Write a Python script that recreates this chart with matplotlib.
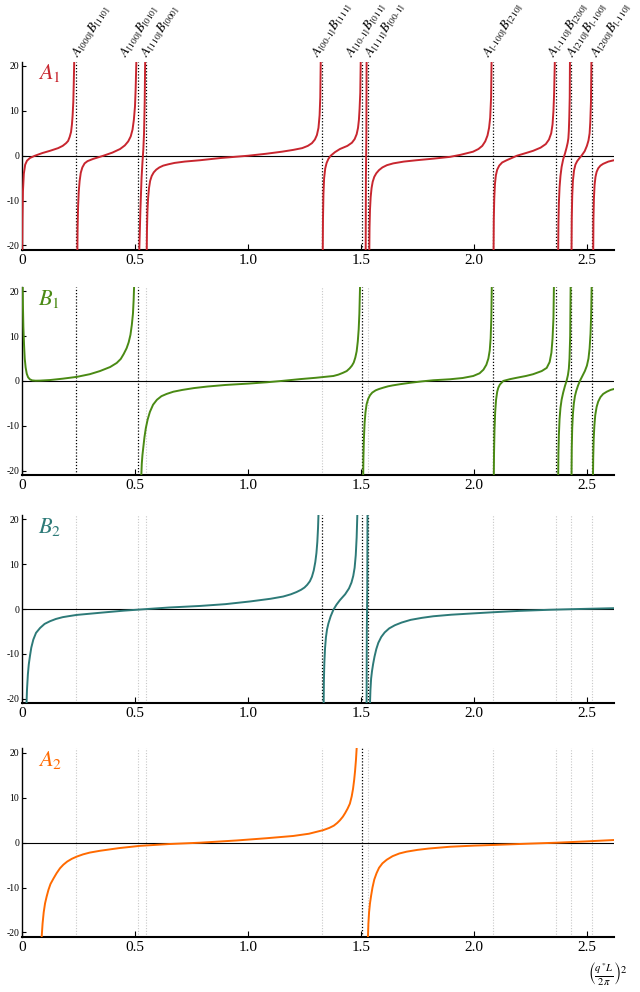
import matplotlib
matplotlib.use("Agg")
import matplotlib.pyplot as plt

plt.rcParams['font.family'] = ['Liberation Serif', 'DejaVu Serif']
plt.rcParams['mathtext.fontset'] = 'stix'
plt.rcParams['axes.unicode_minus'] = False

# positions des poles (q*L/2pi)^2 et leurs etiquettes
poles = [0.241, 0.514, 0.550, 1.327, 1.505, 1.530, 2.083, 2.365, 2.428, 2.523]
pole_labels = [r'$A_{[000]}B_{[110]}$', r'$A_{[100]}B_{[010]}$', r'$A_{[110]}B_{[000]}$',
               r'$A_{[00\text{-}1]}B_{[111]}$', r'$A_{[10\text{-}1]}B_{[011]}$', r'$A_{[111]}B_{[00\text{-}1]}$',
               r'$A_{[\text{-}100]}B_{[210]}$', r'$A_{[\text{-}110]}B_{[200]}$', r'$A_{[210]}B_{[\text{-}100]}$',
               r'$A_{[200]}B_{[\text{-}110]}$']
# ou commence chaque etiquette (decalees pour ne pas se chevaucher)
label_x = [0.245, 0.458, 0.552, 1.305, 1.458, 1.540, 2.063, 2.350, 2.437, 2.543]

xticks = [0, 0.5, 1.0, 1.5, 2.0, 2.5]
xtick_labels = ['0', '0.5', '1.0', '1.5', '2.0', '2.5']
yticks = [-20, -10, 0, 10, 20]
ytick_labels = ['-20', '-10', '0', '10', '20']

# ---- A1 ----
a1_x1 = [0.001, 0.002, 0.004, 0.008, 0.014, 0.022, 0.035, 0.057, 0.09, 0.124, 0.16, 0.18, 0.195, 0.204,
         0.211, 0.217, 0.221, 0.224, 0.227, 0.229, 0.231]
a1_y1 = [-21, -14, -8, -4, -2, -1.1, -0.5, 0, 0.6, 1.1, 1.7, 2.2, 2.8, 3.3,
         4.2, 5.3, 7, 9, 12, 16, 21]
a1_x2 = [0.245, 0.246, 0.248, 0.251, 0.255, 0.26, 0.267, 0.277, 0.29, 0.315, 0.36, 0.40, 0.434, 0.455,
         0.47, 0.481, 0.489, 0.495, 0.5, 0.503, 0.506]
a1_y2 = [-21, -16, -11.5, -8, -5.6, -3.8, -2.6, -1.7, -1.2, -0.7, 0, 0.7, 1.5, 2.3,
         3.2, 4.3, 5.8, 8, 11, 15, 21]
a1_x3 = [0.519, 0.524, 0.529, 0.533, 0.537, 0.540, 0.543, 0.545]
a1_y3 = [-21, -12, -5, -1.5, 1.5, 5, 12, 21]
a1_x4 = [0.552, 0.553, 0.555, 0.558, 0.562, 0.567, 0.574, 0.583, 0.594, 0.608, 0.625, 0.648, 0.675,
         0.72, 0.788, 0.88, 1.0, 1.08, 1.15, 1.2, 1.24, 1.265, 1.283, 1.296, 1.305, 1.312, 1.317,
         1.32, 1.322]
a1_y4 = [-21, -16.5, -12.5, -9.4, -7.2, -5.6, -4.5, -3.7, -3.1, -2.6, -2.2, -1.9, -1.6,
         -1.3, -1.0, -0.5, 0, 0.44, 0.9, 1.3, 1.7, 2.2, 2.8, 3.6, 4.6, 6.2, 9,
         13, 21]
a1_x5 = [1.331, 1.332, 1.334, 1.337, 1.342, 1.348, 1.356, 1.366, 1.385, 1.407, 1.44, 1.46, 1.472, 1.481,
         1.487, 1.491, 1.494, 1.497, 1.499]
a1_y5 = [-21, -14, -8.5, -5, -2.8, -1.6, -0.7, 0, 0.8, 1.5, 2.2, 2.9, 3.7, 4.8,
         6.2, 8, 10.5, 14, 21]
a1_x6 = [1.521, 1.522, 1.523, 1.524, 1.525]
a1_y6 = [-21, -5, 0, 5, 21]
a1_x7 = [1.537, 1.538, 1.54, 1.543, 1.547, 1.552, 1.559, 1.568, 1.58, 1.595, 1.615, 1.643, 1.69, 1.746,
         1.82, 1.894, 1.94, 1.996, 2.02, 2.037, 2.05, 2.06, 2.067, 2.072, 2.076, 2.078]
a1_y7 = [-21, -16, -12, -9.2, -7.2, -5.8, -4.7, -3.9, -3.2, -2.6, -2.1, -1.7, -1.3, -1.0,
         -0.65, -0.25, 0.2, 0.9, 1.5, 2.2, 3.2, 4.5, 6.2, 8.5, 13, 21]
a1_x8 = [2.087, 2.088, 2.09, 2.093, 2.097, 2.103, 2.112, 2.125, 2.145, 2.19, 2.23, 2.262, 2.295, 2.318,
         2.332, 2.342, 2.348, 2.352, 2.355, 2.358]
a1_y8 = [-21, -14, -9.5, -6.3, -4.4, -3.1, -2.2, -1.5, -1.0, 0, 0.6, 1.1, 1.8, 2.6,
         3.6, 5, 7, 10, 14, 21]
a1_x9 = [2.373, 2.374, 2.376, 2.379, 2.383, 2.388, 2.395, 2.403, 2.41, 2.415, 2.418, 2.420, 2.422, 2.424, 2.425]
a1_y9 = [-21, -15, -10.5, -7, -4.5, -2.5, -0.8, 0.5, 1.8, 2.9, 3.9, 5.5, 8.5, 13, 21]
a1_x10 = [2.432, 2.433, 2.435, 2.438, 2.443, 2.449, 2.457, 2.466, 2.476, 2.49, 2.5, 2.507, 2.512, 2.515,
          2.518, 2.52]
a1_y10 = [-21, -14, -9, -5.6, -3.3, -2.0, -1.2, -0.6, 0, 1.0, 2.2, 3.4, 5, 7.5,
          12, 21]
a1_x11 = [2.528, 2.529, 2.531, 2.534, 2.538, 2.543, 2.55, 2.56, 2.572, 2.595, 2.62]
a1_y11 = [-21, -14, -9.6, -6.5, -4.7, -3.6, -2.8, -2.2, -1.8, -1.3, -1.0]

# ---- B1 ----
b1_x1 = [0.003, 0.004, 0.006, 0.009, 0.012, 0.016, 0.021, 0.027, 0.035, 0.045, 0.06, 0.08, 0.124, 0.18,
         0.242, 0.3, 0.345, 0.39, 0.419, 0.437, 0.45, 0.463, 0.472, 0.48, 0.486, 0.491, 0.494, 0.496]
b1_y1 = [21, 17, 12, 8, 5, 3, 1.6, 0.8, 0.35, 0.12, 0.05, 0.07, 0.2, 0.5,
         0.9, 1.5, 2.2, 3.1, 4, 4.9, 6, 7.3, 8.6, 10.3, 12.5, 15, 18, 21]
b1_x2 = [0.528, 0.53, 0.533, 0.537, 0.542, 0.548, 0.556, 0.566, 0.58, 0.597, 0.617, 0.64, 0.67, 0.71,
         0.76, 0.82, 0.9, 1.0, 1.083, 1.15, 1.23, 1.3, 1.378, 1.4, 1.42, 1.437, 1.45, 1.46,
         1.468, 1.475, 1.481, 1.486, 1.49, 1.493, 1.496]
b1_y2 = [-21, -18.5, -16.5, -14.7, -12.5, -10.5, -8.6, -6.9, -5.3, -4.2, -3.4, -2.9, -2.4, -2.0,
         -1.6, -1.25, -0.9, -0.6, -0.3, 0, 0.4, 0.7, 1.1, 1.4, 1.8, 2.2, 2.8, 3.4,
         4.1, 5.2, 6.6, 8.8, 11.5, 15, 21]
b1_x3 = [1.51, 1.511, 1.513, 1.516, 1.52, 1.525, 1.532, 1.54, 1.55, 1.565, 1.58, 1.599, 1.62, 1.64,
         1.673, 1.72, 1.77, 1.82, 1.894, 1.95, 1.997, 2.025, 2.042, 2.055, 2.064, 2.07, 2.074,
         2.077, 2.079]
b1_y3 = [-21, -17, -13, -9.5, -7, -5.2, -4, -3.2, -2.6, -2.1, -1.8, -1.5, -1.2, -1.0,
         -0.73, -0.4, -0.1, 0.15, 0.37, 0.65, 1.1, 1.7, 2.5, 3.6, 5, 6.8, 9.5,
         14, 21]
b1_x4 = [2.088, 2.089, 2.091, 2.094, 2.098, 2.103, 2.108, 2.115, 2.13, 2.16, 2.189, 2.23, 2.262, 2.3,
         2.322, 2.335, 2.343, 2.348, 2.352, 2.354]
b1_y4 = [-21, -16, -11, -7, -4.2, -2.4, -1.5, -0.8, 0, 0.4, 0.7, 1.1, 1.5, 2.2,
         2.9, 4.2, 6.3, 9.5, 14, 21]
b1_x5 = [2.373, 2.374, 2.376, 2.379, 2.383, 2.388, 2.395, 2.403, 2.41, 2.416, 2.42, 2.423, 2.426, 2.428]
b1_y5 = [-21, -16, -12, -8.5, -6, -4.2, -2.6, -1.1, 0, 1.3, 2.7, 5, 10, 21]
b1_x6 = [2.432, 2.433, 2.435, 2.438, 2.442, 2.447, 2.453, 2.461, 2.469, 2.48, 2.491, 2.5, 2.507, 2.512,
         2.516, 2.519, 2.521]
b1_y6 = [-21, -15, -10.5, -7.4, -5.1, -3.4, -2.2, -1.0, 0, 1.1, 2.2, 3.4, 5, 7.3,
         10.5, 15, 21]
b1_x7 = [2.527, 2.528, 2.53, 2.533, 2.537, 2.543, 2.55, 2.56, 2.572, 2.588, 2.605, 2.62]
b1_y7 = [-21, -17, -13, -10, -7.6, -5.8, -4.6, -3.6, -2.9, -2.4, -2.0, -1.8]

# ---- B2 ----
b2_x1 = [0.02, 0.022, 0.026, 0.03, 0.035, 0.041, 0.05, 0.062, 0.08, 0.1, 0.124, 0.15, 0.18, 0.21,
         0.242, 0.35, 0.45, 0.55, 0.65, 0.788, 0.9, 1.009, 1.1, 1.156, 1.19, 1.215, 1.235, 1.25,
         1.262, 1.274, 1.283, 1.291, 1.298, 1.303, 1.307, 1.31, 1.312]
b2_y1 = [-21, -18, -14.5, -12.3, -10.5, -8.6, -6.8, -5.3, -4.2, -3.3, -2.7, -2.2, -1.8, -1.55,
         -1.3, -0.8, -0.35, 0, 0.35, 0.7, 1.1, 1.7, 2.3, 2.8, 3.3, 3.8, 4.3, 4.8,
         5.4, 6.2, 7.2, 8.6, 10.5, 12.5, 15, 18, 21]
b2_x2 = [1.335, 1.336, 1.338, 1.341, 1.345, 1.35, 1.356, 1.366, 1.378, 1.392, 1.407, 1.43, 1.447, 1.458,
         1.466, 1.472, 1.477, 1.481, 1.484]
b2_y2 = [-21, -16, -12, -8.8, -6.3, -4.5, -3.2, -1.6, -0.15, 1.0, 2, 3.3, 4.6, 5.9,
         7.4, 9.2, 12, 16, 21]
b2_x3 = [1.525, 1.526, 1.527, 1.528, 1.529]
b2_y3 = [-21, -5, 0, 5, 21]
b2_x4 = [1.54, 1.542, 1.545, 1.549, 1.554, 1.56, 1.568, 1.577, 1.59, 1.605, 1.625, 1.65, 1.68, 1.72,
         1.77, 1.82, 1.9, 2.0, 2.086, 2.2, 2.336, 2.45, 2.62]
b2_y4 = [-21, -18, -15.5, -13.8, -12.2, -10.6, -8.9, -7.5, -6.2, -5.2, -4.3, -3.6, -3.0, -2.4,
         -1.95, -1.6, -1.25, -0.95, -0.7, -0.4, -0.15, 0, 0.2]

# ---- A2 ----
a2_x1 = [0.087, 0.091, 0.096, 0.102, 0.109, 0.117, 0.126, 0.139, 0.153, 0.168, 0.183, 0.2, 0.22, 0.242,
         0.27, 0.3, 0.345, 0.43, 0.522, 0.65, 0.788, 0.95, 1.083, 1.2, 1.27, 1.333, 1.36, 1.38,
         1.395, 1.407, 1.42, 1.43, 1.441, 1.451, 1.459, 1.465, 1.47, 1.474, 1.478, 1.481]
a2_y1 = [-21, -18, -15.5, -13.5, -12, -10.5, -9.2, -8.0, -6.8, -5.7, -4.9, -4.2, -3.6, -3.1,
         -2.6, -2.2, -1.8, -1.2, -0.7, -0.3, 0, 0.5, 1.0, 1.5, 2.0, 2.8, 3.3, 3.8,
         4.4, 5, 5.8, 6.6, 7.6, 8.7, 10.3, 12, 14, 16, 18.5, 21]
a2_x2 = [1.531, 1.533, 1.536, 1.54, 1.545, 1.551, 1.559, 1.569, 1.58, 1.595, 1.614, 1.64, 1.67, 1.702,
         1.75, 1.8, 1.894, 2.0, 2.086, 2.25, 2.366, 2.5, 2.62]
a2_y2 = [-21, -18, -15.5, -13.5, -11.8, -10, -8.2, -6.8, -5.6, -4.6, -3.8, -3.0, -2.4, -2.0,
         -1.6, -1.3, -0.9, -0.65, -0.5, -0.2, 0, 0.3, 0.6]

panels = [
    (r'$A_1$', '#c8262f', [0, 1, 2, 3, 4, 5, 6, 7, 8, 9],
     [(a1_x1, a1_y1), (a1_x2, a1_y2), (a1_x3, a1_y3), (a1_x4, a1_y4), (a1_x5, a1_y5), (a1_x6, a1_y6),
      (a1_x7, a1_y7), (a1_x8, a1_y8), (a1_x9, a1_y9), (a1_x10, a1_y10), (a1_x11, a1_y11)]),
    (r'$B_1$', '#4a8a14', [0, 1, 4, 6, 7, 8, 9],
     [(b1_x1, b1_y1), (b1_x2, b1_y2), (b1_x3, b1_y3), (b1_x4, b1_y4), (b1_x5, b1_y5), (b1_x6, b1_y6),
      (b1_x7, b1_y7)]),
    (r'$B_2$', '#2d7a78', [3, 4, 5],
     [(b2_x1, b2_y1), (b2_x2, b2_y2), (b2_x3, b2_y3), (b2_x4, b2_y4)]),
    (r'$A_2$', '#ff6a00', [4],
     [(a2_x1, a2_y1), (a2_x2, a2_y2)]),
]

fig = plt.figure(figsize=(6.4, 9.92), dpi=100)
bottoms = [0.748, 0.521, 0.291, 0.0555]

for k, (name, col, actifs, branches) in enumerate(panels):
    ax = fig.add_axes([0.0344, bottoms[k], 0.925, 0.19])
    ax.set_xlim(0, 2.62)
    ax.set_ylim(-21, 21)
    for i, p in enumerate(poles):
        if i in actifs:
            ax.axvline(p, color='black', ls=(0, (1, 1.5)), lw=0.9, zorder=1)
        else:
            ax.axvline(p, color='#c8c8c8', ls=(0, (1, 1.5)), lw=0.8, zorder=1)
    ax.axhline(0, color='black', lw=0.8, zorder=2)
    for bx, by in branches:
        ax.plot(bx, by, color=col, lw=1.4, zorder=3, solid_joinstyle='round')
    ax.text(0.027, 0.995, name, transform=ax.transAxes, color=col, fontsize=16,
            ha='left', va='top')
    for s in ['top', 'right']:
        ax.spines[s].set_visible(False)
    ax.spines['left'].set_linewidth(1.0)
    ax.spines['bottom'].set_linewidth(1.5)
    ax.set_xticks(xticks)
    ax.set_xticklabels(xtick_labels, fontsize=11)
    ax.set_yticks(yticks)
    ax.set_yticklabels(ytick_labels, fontsize=7)
    ax.tick_params(axis='x', direction='in', length=4, width=0.8, pad=3)
    ax.tick_params(axis='y', direction='in', length=3, width=0.8, pad=2)
    if k == 0:
        for lx, lab in zip(label_x, pole_labels):
            ax.text(lx, 21.8, lab, rotation=57, rotation_mode='anchor', fontsize=9.5,
                    ha='left', va='baseline', clip_on=False)

fig.text(0.918, 0.018, r'$\left(\frac{q^{*}L}{2\pi}\right)^2$', fontsize=11, ha='left', va='center')

fig.savefig('out.png', dpi=100)
